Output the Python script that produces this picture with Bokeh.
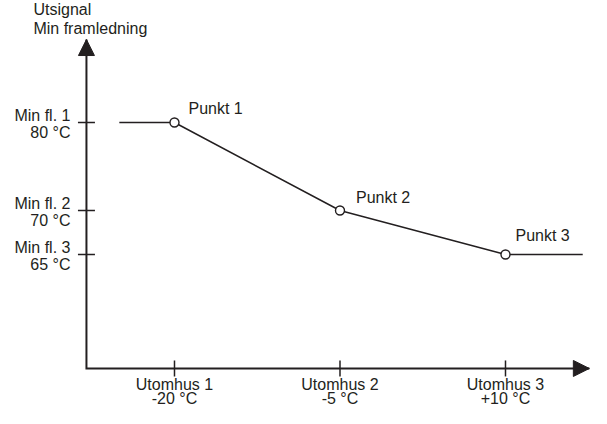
from bokeh.plotting import figure
from bokeh.models import Range1d, Arrow, NormalHead, ColumnDataSource
from bokeh.core.properties import value
from bokeh.embed import file_html
from bokeh.resources import INLINE
import math

# ---- data ----
x_temps = [-20, -5, 10]
x_names = ["Utomhus 1", "Utomhus 2", "Utomhus 3"]
x_temp_labels = ["-20 °C", "-5 °C", "+10 °C"]

y_temps = [80, 70, 65]
y_names = ["Min fl. 1", "Min fl. 2", "Min fl. 3"]
y_temp_labels = ["80 °C", "70 °C", "65 °C"]

point_labels = ["Punkt 1", "Punkt 2", "Punkt 3"]

curve_x = [-25, -20, -5, 10, 17]
curve_y = [80, 80, 70, 65, 65]

y_title = ["Utsignal", "Min framledning"]

# ---- layout / style ----
FONT = "Liberation Sans"
FS = "16px"
C = "#231F20"
B = -6  # baseline correction (px)

X0, Y0 = -27.98, 52.05          # axis origin
Y_TOP, X_END = 89.43, 17.6      # arrow tips

p = figure(width=591, height=408,
           x_range=Range1d(-35.77, 17.795), y_range=Range1d(47.5, 93.864),
           output_backend="svg", toolbar_location=None, min_border=0,
           x_axis_location=None, y_axis_location=None)
p.grid.visible = False
p.outline_line_color = None
p.background_fill_color = "white"

# axes
p.line([X0, X0, X_END], [Y_TOP, Y0, Y0], line_width=2, line_color=C, line_join="miter")
p.add_layout(Arrow(x_start=X0, y_start=Y0, x_end=X0, y_end=Y_TOP, line_alpha=0,
                   end=NormalHead(size=16, fill_color=C, line_color=C, line_width=1)))
p.add_layout(Arrow(x_start=X0, y_start=Y0, x_end=X_END, y_end=Y0, line_alpha=0,
                   end=NormalHead(size=16, fill_color=C, line_color=C, line_width=1)))

# ticks
p.scatter(x=[X0] * len(y_temps), y=y_temps, marker="dash", size=17, line_width=1.5, line_color=C)
p.scatter(x=x_temps, y=[Y0] * len(x_temps), marker="dash", angle=math.pi / 2, size=16,
          line_width=1.5, line_color=C)

# curve
p.line(curve_x, curve_y, line_width=1.5, line_color=C)
p.scatter(x_temps, y_temps, marker="circle", size=9, fill_color="white", line_color=C, line_width=1.4)

# point labels
pts = ColumnDataSource(dict(x=x_temps, y=y_temps, t=point_labels,
                            dx=[14, 16, 10], dy=[-8 + B, -7 + B, -13 + B]))
p.text(x="x", y="y", text="t", x_offset="dx", y_offset="dy", source=pts,
       text_font=value(FONT), text_font_size=FS, text_color=C,
       text_align="left", text_baseline="alphabetic")

# y tick labels
p.text(x=[X0] * 3, y=y_temps, text=y_names, x_offset=-16, y_offset=-1 + B,
       text_font=value(FONT), text_font_size=FS, text_color=C,
       text_align="right", text_baseline="alphabetic")
p.text(x=[X0] * 3, y=y_temps, text=y_temp_labels, x_offset=-16, y_offset=15.5 + B,
       text_font=value(FONT), text_font_size=FS, text_color=C,
       text_align="right", text_baseline="alphabetic")

# x tick labels
p.text(x=x_temps, y=[Y0] * 3, text=x_names, y_offset=22 + B,
       text_font=value(FONT), text_font_size=FS, text_color=C,
       text_align="center", text_baseline="alphabetic")
p.text(x=x_temps, y=[Y0] * 3, text=x_temp_labels, y_offset=36 + B,
       text_font=value(FONT), text_font_size=FS, text_color=C,
       text_align="center", text_baseline="alphabetic")

# y axis title
p.text(x=[X0, X0], y=[Y_TOP, Y_TOP], text=y_title, x_offset=-53,
       y_offset=[-24.3 + B, -5 + B],
       text_font=value(FONT), text_font_size=FS, text_color=C,
       text_align="left", text_baseline="alphabetic")

open("out.html", "w").write(file_html(p, INLINE))
